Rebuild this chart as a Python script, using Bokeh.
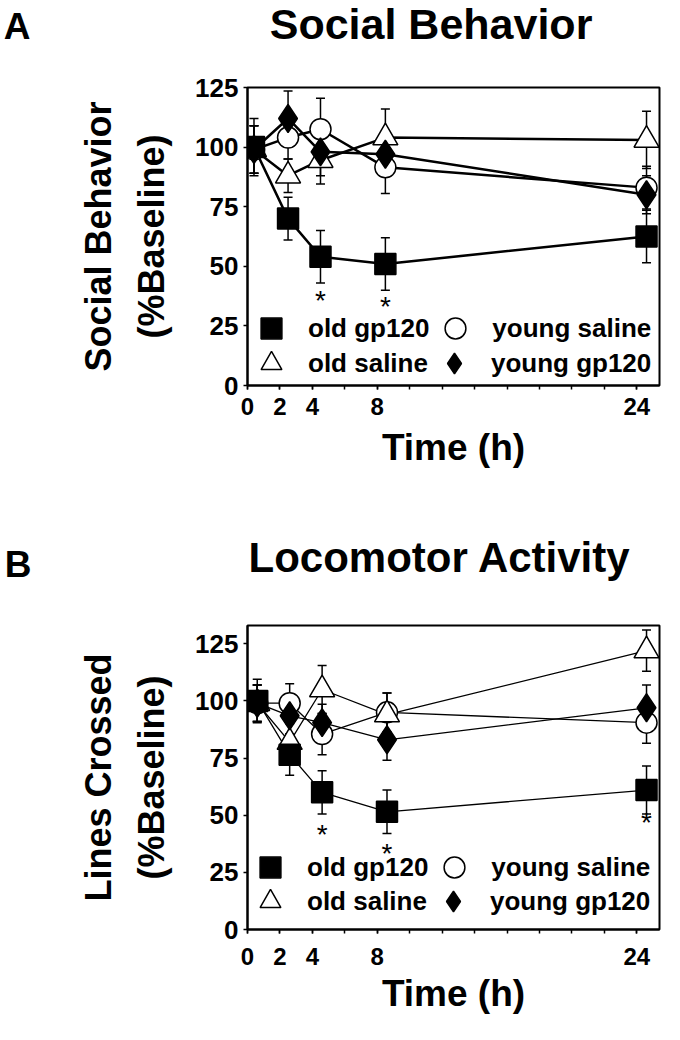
from bokeh.plotting import figure
from bokeh.models import (Range1d, FixedTicker, Whisker, TeeHead, ColumnDataSource,
                          Legend, LegendItem)
from bokeh.layouts import column
from bokeh.embed import file_html
from bokeh.resources import INLINE
from bokeh.core.properties import value

FONT = "Liberation Sans"

# ---------------- data ----------------
hour_ticks = [0, 2, 4, 8, 24]
hour_minor_ticks = [0, 2, 4, 6, 8, 10, 12, 14, 16, 18, 20, 22, 24]
pct_ticks = [0, 25, 50, 75, 100, 125]

series_names = ["old gp120", "old saline", "young saline", "young gp120"]
legend_rows = [["old gp120", "young saline"], ["old saline", "young gp120"]]

# Panel A: Social Behavior (% baseline)
a_time = [0.4, 2.5, 4.5, 8.5, 24.6]
a_old_gp120 = [100, 70, 54, 51, 62.5]
a_old_gp120_err = [12, 9, 11, 11, 11]
a_old_saline = [99, 88, 94.5, 104, 103]
a_old_saline_err = [10, 7, 10, 12, 12]
a_young_saline = [99, 104, 107.5, 91.5, 83]
a_young_saline_err = [10, 9, 13, 11, 9]
a_young_gp120 = [99, 112, 98, 97, 80]
a_young_gp120_err = [10, 11.5, 10, 9, 8]
a_star_time = [4.5, 8.5]
a_star_pct = [38, 35.5]

# Panel B: Locomotor Activity, lines crossed (% baseline)
b_time = [0.6, 2.6, 4.6, 8.6, 24.6]
b_old_gp120 = [100, 76.5, 60, 51.5, 61]
b_old_gp120_err = [9.5, 9, 9.5, 9.5, 10.5]
b_old_saline = [99, 82, 105, 94, 122]
b_old_saline_err = [8, 8, 10.5, 9.5, 9]
b_young_saline = [99, 99, 85.5, 95, 90.5]
b_young_saline_err = [8, 8.5, 9, 8.5, 9]
b_young_gp120 = [99, 93.5, 90.5, 83, 97]
b_young_gp120_err = [8, 8, 8, 9, 10]
b_star_time = [4.6, 8.6, 24.6]
b_star_pct = [44, 36, 49.5]

# ---------------- styles ----------------
STYLE = {
    "old gp120": dict(marker="square", size=21, fill_color="black"),
    "old saline": dict(marker="triangle", size=25, fill_color="white"),
    "young saline": dict(marker="circle", size=21, fill_color="white"),
    "young gp120": dict(marker="diamond", size=28, fill_color="black"),
}
DRAW_ORDER = ["young saline", "old saline", "young gp120", "old gp120"]
BORDER_LEFT = 246
BORDER_RIGHT = 5


def make_header(height, letter, letter_y, letter_standoff, title, title_pos,
                title_size, title_align):
    """Panel letter (as a horizontal left-axis label) and the panel title."""
    h = figure(width=664, height=height, output_backend="svg", toolbar_location=None,
               x_range=Range1d(0, 413), y_range=Range1d(0, height),
               x_axis_type=None,
               min_border_left=BORDER_LEFT, min_border_right=BORDER_RIGHT,
               min_border_top=0, min_border_bottom=0)
    h.xgrid.visible = False
    h.ygrid.visible = False
    h.outline_line_color = None
    ya = h.yaxis[0]
    ya.ticker = FixedTicker(ticks=[letter_y], minor_ticks=[])
    ya.major_label_overrides = {letter_y: letter}
    ya.axis_line_color = None
    ya.major_tick_line_color = None
    ya.minor_tick_line_color = None
    ya.major_tick_in = 0
    ya.major_tick_out = 0
    ya.major_label_standoff = letter_standoff
    ya.major_label_text_font = FONT
    ya.major_label_text_font_style = "bold"
    ya.major_label_text_font_size = "37px"
    ya.major_label_text_color = "black"
    h.text([title_pos[0]], [title_pos[1]], text=[title], text_font=value(FONT),
           text_font_style="bold", text_font_size=title_size, text_align=title_align,
           text_baseline="middle", text_color="black")
    return h


def make_panel(cfg):
    p = figure(width=664, height=cfg["height"], output_backend="svg", toolbar_location=None,
               x_range=Range1d(0, 25.4), y_range=Range1d(0, cfg["y_end"]),
               min_border_left=BORDER_LEFT, min_border_right=BORDER_RIGHT,
               min_border_top=cfg["border_top"], min_border_bottom=cfg["border_bottom"])
    p.xgrid.visible = False
    p.ygrid.visible = False
    p.outline_line_color = "black"
    p.outline_line_width = 2
    p.outline_line_alpha = 1
    p.background_fill_color = "white"

    xa = p.xaxis[0]
    xa.ticker = FixedTicker(ticks=hour_ticks, minor_ticks=hour_minor_ticks)
    xa.axis_line_width = 2
    xa.major_tick_in = 0
    xa.major_tick_out = 4
    xa.minor_tick_in = 0
    xa.minor_tick_out = 4
    xa.major_tick_line_width = 1.5
    xa.minor_tick_line_width = 1.5
    xa.major_label_text_font = FONT
    xa.major_label_text_font_style = "bold"
    xa.major_label_text_font_size = "24px"
    xa.major_label_text_color = "black"
    xa.major_label_standoff = cfg["x_standoff"]
    xa.axis_label = "Time (h)"
    xa.axis_label_text_font = FONT
    xa.axis_label_text_font_style = "bold"
    xa.axis_label_text_font_size = "37px"
    xa.axis_label_text_color = "black"
    xa.axis_label_standoff = cfg["xlabel_standoff"]

    ya = p.yaxis[0]
    ya.ticker = FixedTicker(ticks=pct_ticks)
    ya.axis_line_width = 2
    ya.major_tick_in = 0
    ya.major_tick_out = 4
    ya.major_tick_line_width = 1.5
    ya.minor_tick_line_color = None
    ya.major_label_text_font = FONT
    ya.major_label_text_font_style = "bold"
    ya.major_label_text_font_size = "26px"
    ya.major_label_text_color = "black"
    ya.major_label_text_baseline = "alphabetic"
    ya.major_label_standoff = 5
    ya.axis_label = cfg["ylabel"]
    ya.axis_label_text_font = FONT
    ya.axis_label_text_font_style = "bold"
    ya.axis_label_text_font_size = "36px"
    ya.axis_label_text_color = "black"
    ya.axis_label_text_line_height = 1.3
    ya.axis_label_standoff = 20

    times = cfg["time"]
    vals = cfg["vals"]
    errs = cfg["errs"]
    lw = cfg["line_width"]

    for name in series_names:
        y = vals[name]
        e = errs[name]
        src = ColumnDataSource(dict(t=times,
                                    lo=[v - d for v, d in zip(y, e)],
                                    hi=[v + d for v, d in zip(y, e)]))
        w = Whisker(base="t", lower="lo", upper="hi", source=src,
                    line_color="black", line_width=1.5,
                    lower_head=TeeHead(size=9, line_width=1.5, line_color="black"),
                    upper_head=TeeHead(size=9, line_width=1.5, line_color="black"))
        p.add_layout(w)

    for name in series_names:
        p.line(times, vals[name], line_color="black", line_width=lw)

    rends = {}
    for name in DRAW_ORDER:
        st = STYLE[name]
        rends[name] = p.scatter(times, vals[name], marker=st["marker"], size=st["size"],
                                fill_color=st["fill_color"], line_color="black",
                                line_width=1.5)

    st_t, st_y = cfg["stars"]
    p.text(st_t, st_y, text=["*"] * len(st_t), text_font=value(FONT),
           text_font_size="28px", text_align="center", text_baseline="middle",
           y_offset=6, text_color="black")

    for row, loc in zip(legend_rows, cfg["legend_locs"]):
        legend = Legend(items=[LegendItem(label=n, renderers=[rends[n]]) for n in row],
                        orientation="horizontal", location=loc, padding=0, margin=0,
                        spacing=0, glyph_width=52, glyph_height=52, label_standoff=11,
                        label_text_font=FONT, label_text_font_style="bold",
                        label_text_font_size="26px", label_text_color="black",
                        background_fill_alpha=0, border_line_alpha=0)
        p.add_layout(legend)
    return p


header_a = make_header(70, "A", 44, 217, "Social Behavior", (184, 47), "43px", "center")
panel_a = make_panel(dict(
    height=442, y_end=125, border_top=17, border_bottom=127,
    x_standoff=8, xlabel_standoff=9,
    ylabel="Social Behavior\n(%Baseline)",
    time=a_time,
    vals={"old gp120": a_old_gp120, "old saline": a_old_saline,
          "young saline": a_young_saline, "young gp120": a_young_gp120},
    errs={"old gp120": a_old_gp120_err, "old saline": a_old_saline_err,
          "young saline": a_young_saline_err, "young gp120": a_young_gp120_err},
    line_width=2.5,
    stars=(a_star_time, a_star_pct),
    legend_locs=[(-2, 31), (-2, -4)],
))

header_b = make_header(80, "B", 28, 216, "Locomotor Activity", (1, 35), "42px", "left")
panel_b = make_panel(dict(
    height=432, y_end=133, border_top=33, border_bottom=95,
    x_standoff=14, xlabel_standoff=5,
    ylabel="Lines Crossed\n(%Baseline)",
    time=b_time,
    vals={"old gp120": b_old_gp120, "old saline": b_old_saline,
          "young saline": b_young_saline, "young gp120": b_young_gp120},
    errs={"old gp120": b_old_gp120_err, "old saline": b_old_saline_err,
          "young saline": b_young_saline_err, "young gp120": b_young_gp120_err},
    line_width=1.3,
    stars=(b_star_time, b_star_pct),
    legend_locs=[(-3, 36), (-3, 2)],
))

layout = column(header_a, panel_a, header_b, panel_b)
open("out.html", "w").write(file_html(layout, INLINE))
